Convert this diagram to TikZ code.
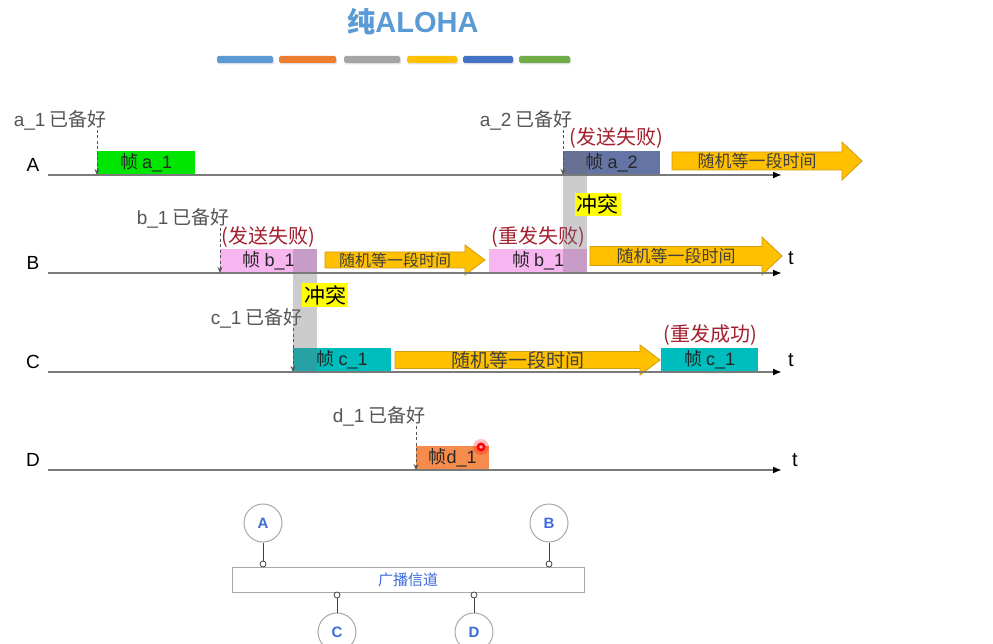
\documentclass[tikz,border=0pt]{standalone}
\usepackage{fontspec}
\setmainfont{Noto Sans CJK SC}
\newfontfamily\lat{Liberation Sans}
\usetikzlibrary{arrows.meta}
\definecolor{titleblue}{HTML}{5B9BD5}
\definecolor{barblue}{HTML}{5B9BD5}
\definecolor{barorange}{HTML}{ED7D31}
\definecolor{bargray}{HTML}{A5A5A5}
\definecolor{baryellow}{HTML}{FFC000}
\definecolor{bardarkblue}{HTML}{4472C4}
\definecolor{bargreen}{HTML}{70AD47}
\definecolor{framegreen}{HTML}{00E600}
\definecolor{frameslate}{HTML}{6474A4}
\definecolor{framepink}{HTML}{F8B6F0}
\definecolor{frameteal}{HTML}{00BDBD}
\definecolor{frameorange}{HTML}{F58C4E}
\definecolor{waitfill}{HTML}{FFC000}
\definecolor{waitdraw}{HTML}{D49A10}
\definecolor{failred}{HTML}{A31F2E}
\definecolor{labelgray}{HTML}{555555}
\definecolor{linegray}{HTML}{7A7A7A}
\definecolor{bandgray}{HTML}{6E6E78}
\definecolor{conflictyellow}{HTML}{FFFF00}
\definecolor{stationblue}{HTML}{3D6BDB}
\definecolor{ringgray}{HTML}{A8A8A8}
\newcommand\fsz[1]{\fontsize{#1}{#1}\selectfont}
\newcommand\waitarrow[7]{%
  \filldraw[waitshape] (#1,#3-#4) -- (#2-20,#3-#4) -- (#2-20,#3-#5) -- (#2,#3) -- (#2-20,#3+#5) -- (#2-20,#3+#4) -- (#1,#3+#4) -- cycle;
  \node[font=\fsz{#6}, text=black!75] (#7) at ({(#1+#2-20)/2},#3) {随机等一段时间};}
\begin{document}
\begin{tikzpicture}[x=1pt,y=-1pt,
  every node/.style={inner sep=0pt},
  rowlabel/.style={font=\lat\fsz{19}, text=black},
  readylabel/.style={font=\fsz{19}, text=labelgray, anchor=east},
  failnote/.style={font=\fsz{20}, text=failred},
  frame/.style={anchor=south west, minimum height=24pt, font=\fsz{18}, text=black!85},
  timeline/.style={draw=linegray, line width=1.8pt, -{Latex[length=9pt,width=7pt,color=black]}},
  readyarrow/.style={draw=labelgray, line width=0.9pt, dash pattern=on 3pt off 2.5pt, -{Stealth[length=6pt,width=5pt]}},
  band/.style={fill=bandgray, fill opacity=0.35},
  conflict/.style={fill=conflictyellow, font=\fsz{21}, inner sep=2pt},
  waitshape/.style={fill=waitfill, draw=waitdraw, line width=0.8pt, line join=miter},
  tlabel/.style={font=\lat\fsz{20}, text=black},
  barstyle/.style={rounded corners=1.5pt},
  station/.style={circle, draw=ringgray, line width=1pt, fill=white, minimum size=38pt, text=stationblue, font=\lat\bfseries\fsz{15}},
  tap/.style={circle, draw=black!75, fill=white, minimum size=6pt, line width=0.8pt},
  stub/.style={draw=black!75, line width=1pt},
  bus/.style={draw=ringgray, line width=1pt, minimum width=352pt, minimum height=25pt, text=stationblue, font=\fsz{15}}
]
\useasboundingbox (0,0) rectangle (993,644);
\clip (0,0) rectangle (993,644);
\fill[white] (0,0) rectangle (993,644);

% title and colour bars
\node[text=titleblue] (title) at (413,22) {{\bfseries\fsz{28}纯}{\lat\bfseries\fsz{29}ALOHA}};
\foreach \xa/\xb/\c in {217/273/barblue, 279/336/barorange, 344/400/bargray, 407/457/baryellow, 463/513/bardarkblue, 519/570/bargreen}{
  \fill[black!12, barstyle] (\xa+1,57.5) rectangle (\xb+1,64.5);
  \fill[\c, barstyle] (\xa,56) rectangle (\xb,63);
}

% row A
\node[rowlabel] (LA) at (33,165) {A};
\node[readylabel] (ra1) at (107,120) {{\lat a\_1} 已备好};
\node[frame, fill=framegreen, minimum width=98pt] (a1) at (97,175) {帧 {\lat a\_1}};
\node[readylabel] (ra2) at (573,120) {{\lat a\_2} 已备好};
\node[failnote] (fa2) at (616,138) {(发送失败)};
\node[frame, fill=frameslate, minimum width=97pt] (a2) at (563,175) {帧 {\lat a\_2}};
\waitarrow{672}{862}{161}{9}{19}{17}{wA}

% row B
\node[rowlabel] (LB) at (33,263) {B};
\node[readylabel] (rb1) at (230,218) {{\lat b\_1} 已备好};
\node[failnote] (fb1) at (268,237) {(发送失败)};
\node[frame, fill=framepink, minimum width=97pt] (b1) at (220,273) {帧 {\lat b\_1}};
\waitarrow{325}{485}{260}{8}{15}{16}{wB1}
\node[failnote] (fb2) at (538,237) {(重发失败)};
\node[frame, fill=framepink, minimum width=98pt] (b2) at (489,273) {帧 {\lat b\_1}};
\waitarrow{590}{782}{256}{9.5}{19}{17}{wB2}
\node[tlabel] (tB) at (791,258) {t};

% row C
\node[rowlabel] (LC) at (33,362) {C};
\node[readylabel] (rc1) at (303,318) {{\lat c\_1} 已备好};
\node[frame, fill=frameteal, minimum width=98pt] (c1) at (293,372) {帧 {\lat c\_1}};
\waitarrow{395}{660}{360}{8.5}{15}{19}{wC}
\node[failnote] (sc2) at (710,335) {(重发成功)};
\node[frame, fill=frameteal, minimum width=97pt] (c2) at (661,372) {帧 {\lat c\_1}};
\node[tlabel] (tC) at (791,360) {t};

% row D
\node[rowlabel] (LD) at (33,460) {D};
\node[readylabel] (rd1) at (426,416) {{\lat d\_1} 已备好};
\node[frame, fill=frameorange, minimum width=73pt] (d1) at (416,470) {帧{\lat d\_1}};
\node[tlabel] (tD) at (795,460) {t};

% collision bands
\fill[band] (563,151) rectangle (587,273);
\fill[band] (293,249) rectangle (317,372);
\node[conflict] (k1) at (597.5,204.5) {冲突};
\node[conflict] (k2) at (325,295) {冲突};

% timelines
\coordinate (sA) at (48,175); \coordinate (eA) at (782,175);
\coordinate (sB) at (48,273); \coordinate (eB) at (782,273);
\coordinate (sC) at (48,372); \coordinate (eC) at (782,372);
\coordinate (sD) at (48,470); \coordinate (eD) at (782,470);
\draw[timeline] (sA) -- (eA);
\draw[timeline] (sB) -- (eB);
\draw[timeline] (sC) -- (eC);
\draw[timeline] (sD) -- (eD);

% ready arrows
\coordinate (ta1) at (97,130);
\coordinate (ta2) at (563,130);
\coordinate (tb1) at (220,228);
\coordinate (tc1) at (293,328);
\coordinate (td1) at (416,426);
\draw[readyarrow] (ta1) -- (a1.south west);
\draw[readyarrow] (ta2) -- (a2.south west);
\draw[readyarrow] (tb1) -- (b1.south west);
\draw[readyarrow] (tc1) -- (c1.south west);
\draw[readyarrow] (td1) -- (d1.south west);

% pointer dot
\fill[red, opacity=0.25] (481,447) circle (8);
\fill[red] (481,447) circle (4.5);
\fill[red!30] (481,447) circle (1.8);

% broadcast channel
\node[bus] (chan) at (408,579.5) {广播信道};
\node[station] (nA) at (263,523) {A};
\node[station] (nB) at (549,523) {B};
\node[station] (nC) at (337,632) {C};
\node[station] (nD) at (474,632) {D};
\node[tap] (pA) at (263,564) {};
\node[tap] (pB) at (549,564) {};
\node[tap] (pC) at (337,595) {};
\node[tap] (pD) at (474,595) {};
\draw[stub] (nA.south) -- (pA.north);
\draw[stub] (nB.south) -- (pB.north);
\draw[stub] (nC.north) -- (pC.south);
\draw[stub] (nD.north) -- (pD.south);
\end{tikzpicture}
\end{document}
